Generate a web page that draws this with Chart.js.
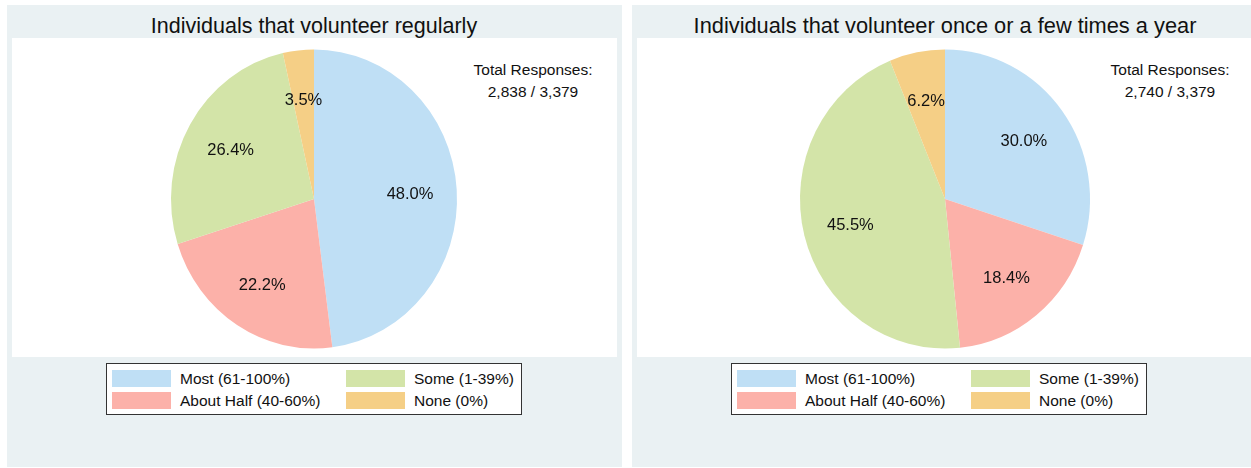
<!DOCTYPE html>
<html>
<head>
<meta charset="utf-8">
<script src="https://cdn.jsdelivr.net/npm/chart.js@4.4.1/dist/chart.umd.min.js"></script>
<style>
  html, body { margin: 0; padding: 0; background: #ffffff; }
  body { font-family: "Liberation Sans", Arial, sans-serif; color: #111; }
  #root { position: relative; width: 1251px; height: 468px; overflow: hidden; background: #ffffff; }
  .panel { position: absolute; top: 5px; height: 462px; background: #eaf1f3; }
  .plot { position: absolute; background: #ffffff; top: 33px; height: 319px; }
  .title { position: absolute; top: 8px; font-size: 21.5px; white-space: nowrap; transform: translateX(-50%); line-height: 26px; }
  .total { position: absolute; font-size: 15.5px; white-space: nowrap; transform: translateX(-50%); text-align: center; line-height: 22px; top: 54px; }
  canvas { position: absolute; }
  .legend { position: absolute; top: 358px; width: 416px; height: 52px; background: #fff; border: 1px solid #333; box-sizing: border-box; }
  .sw { position: absolute; width: 59px; height: 17px; }
  .lt { position: absolute; font-size: 15.5px; white-space: nowrap; line-height: 18px; }
</style>
</head>
<body>
<div id="root"></div>
<script>
// ---- data ----
const categories = ['Most (61-100%)', 'About Half (40-60%)', 'Some (1-39%)', 'None (0%)'];
const regularValues = [48.0, 22.2, 26.4, 3.5];
const occasionalValues = [30.0, 18.4, 45.5, 6.2];
const chartTitles = ['Individuals that volunteer regularly', 'Individuals that volunteer once or a few times a year'];
const totalLabel = 'Total Responses:';
const totals = ['2,838 / 3,379', '2,740 / 3,379'];

// ---- styles ----
const palette = ['#bfdff5', '#fcb1a9', '#d3e4a8', '#f5cf86'];
const FONT = '"Liberation Sans", Arial, sans-serif';

const panels = [
  { left: 7, width: 615, values: regularValues, title: chartTitles[0], total: totals[0],
    plotL: 5, plotW: 605, titleX: 307, totalX: 526, legendX: 99, cx: 307, rx: 143, ry: 149.5, titleSize: 21.5 },
  { left: 632, width: 619, values: occasionalValues, title: chartTitles[1], total: totals[1],
    plotL: 5, plotW: 614, titleX: 313, totalX: 538, legendX: 99, cx: 313, rx: 145, ry: 149.5, titleSize: 21.8 }
];

const ellipsePlugin = {
  id: 'ellipse',
  beforeDatasetsDraw(chart, args, opts) {
    const a = chart.getDatasetMeta(0).data[0];
    const ctx = chart.ctx;
    ctx.save();
    ctx.translate(a.x, a.y);
    ctx.scale(1, opts.ratio);
    ctx.translate(-a.x, -a.y);
  },
  afterDatasetsDraw(chart, args, opts) {
    chart.ctx.restore();
    const ctx = chart.ctx;
    const meta = chart.getDatasetMeta(0);
    const vals = chart.data.datasets[0].data;
    ctx.save();
    ctx.font = '16.5px ' + FONT;
    ctx.fillStyle = '#111';
    ctx.textAlign = 'center';
    ctx.textBaseline = 'middle';
    meta.data.forEach((arc, i) => {
      const mid = (arc.startAngle + arc.endAngle) / 2;
      const k = 0.673 * arc.outerRadius;
      const x = arc.x + Math.cos(mid) * k;
      const y = arc.y + Math.sin(mid) * k * opts.ratio + 1.5;
      ctx.fillText(vals[i].toFixed(1) + '%', x, y);
    });
    ctx.restore();
  }
};

const root = document.getElementById('root');
panels.forEach(p => {
  const panel = document.createElement('div');
  panel.className = 'panel';
  panel.style.left = p.left + 'px';
  panel.style.width = p.width + 'px';
  root.appendChild(panel);

  const plot = document.createElement('div');
  plot.className = 'plot';
  plot.style.left = p.plotL + 'px';
  plot.style.width = p.plotW + 'px';
  panel.appendChild(plot);

  const t = document.createElement('div');
  t.className = 'title';
  t.style.left = p.titleX + 'px';
  t.style.fontSize = p.titleSize + 'px';
  t.textContent = p.title;
  panel.appendChild(t);

  const tot = document.createElement('div');
  tot.className = 'total';
  tot.style.left = p.totalX + 'px';
  tot.innerHTML = totalLabel + '<br>' + p.total;
  panel.appendChild(tot);

  const cw = p.cx * 2, ch = 388;
  const cv = document.createElement('canvas');
  cv.width = cw; cv.height = ch;
  cv.style.left = '0px'; cv.style.top = '0px';
  cv.style.width = cw + 'px'; cv.style.height = ch + 'px';
  panel.appendChild(cv);

  const lg = document.createElement('div');
  lg.className = 'legend';
  lg.style.left = p.legendX + 'px';
  categories.forEach((c, i) => {
    const col = i < 2 ? 0 : 1;
    const row = i % 2;
    const sw = document.createElement('div');
    sw.className = 'sw';
    sw.style.left = (5 + col * 234) + 'px';
    sw.style.top = (6 + row * 22) + 'px';
    sw.style.background = palette[i];
    lg.appendChild(sw);
    const lt = document.createElement('div');
    lt.className = 'lt';
    lt.style.left = (73 + col * 234) + 'px';
    lt.style.top = (6 + row * 22) + 'px';
    lt.textContent = c;
    lg.appendChild(lt);
  });
  panel.appendChild(lg);

  new Chart(cv, {
    type: 'pie',
    data: {
      labels: categories,
      datasets: [{ data: p.values, backgroundColor: palette, borderWidth: 0 }]
    },
    options: {
      responsive: false,
      animation: false,
      radius: p.rx,
      layout: { padding: 0 },
      plugins: { legend: { display: false }, tooltip: { enabled: false }, ellipse: { ratio: p.ry / p.rx } },
      events: []
    },
    plugins: [ellipsePlugin]
  });
});
</script>
</body>
</html>
